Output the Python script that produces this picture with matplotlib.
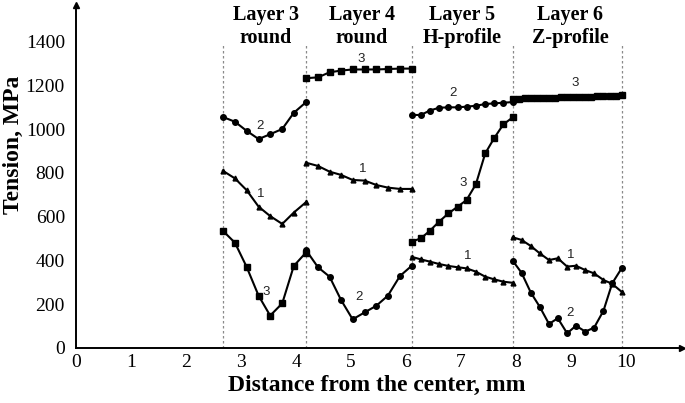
import matplotlib
matplotlib.use("Agg")
import matplotlib.pyplot as plt

# ---------------- data ----------------
layer_bounds = [2.67, 4.18, 6.10, 7.94, 9.92]
layer_titles = ["Layer 3", "Layer 4", "Layer 5", "Layer 6"]
layer_kinds = ["round", "round", "H-profile", "Z-profile"]

x_l3 = [2.67, 2.89, 3.10, 3.32, 3.53, 3.75, 3.96, 4.18]
l3_c1 = [810, 775, 722, 646, 603, 567, 619, 666]
l3_c2 = [1056, 1034, 993, 955, 977, 1001, 1075, 1123]
l3_c3 = [536, 481, 372, 239, 148, 204, 375, 436]

x_l4 = [4.18, 4.40, 4.61, 4.82, 5.03, 5.25, 5.46, 5.67, 5.89, 6.10]
l4_c1 = [847, 832, 806, 791, 768, 765, 745, 733, 727, 727]
l4_c2 = [448, 369, 326, 219, 131, 163, 193, 239, 329, 375]
l4_c3 = [1233, 1237, 1260, 1268, 1273, 1273, 1273, 1275, 1277, 1277]

x_l5 = [6.10, 6.27, 6.43, 6.60, 6.77, 6.94, 7.10, 7.27, 7.44, 7.60, 7.77, 7.94]
l5_c1 = [417, 405, 395, 384, 375, 369, 364, 349, 326, 314, 303, 298]
l5_c2 = [1065, 1065, 1085, 1098, 1100, 1100, 1103, 1107, 1115, 1118, 1121, 1124]
l5_c3 = [486, 501, 535, 577, 615, 646, 676, 748, 889, 958, 1022, 1054]

x_l6 = [7.94, 8.10, 8.27, 8.43, 8.60, 8.76, 8.93, 9.09, 9.26, 9.42, 9.59, 9.75, 9.92]
l6_c1 = [506, 494, 466, 433, 402, 410, 372, 376, 356, 341, 311, 293, 257]
l6_c2 = [399, 344, 253, 189, 110, 136, 67, 102, 75, 93, 170, 296, 364]
x_l6_c3 = [7.94, 8.05, 8.16, 8.27, 8.38, 8.49, 8.60, 8.71, 8.82, 8.93,
           9.04, 9.15, 9.26, 9.37, 9.48, 9.59, 9.70, 9.81, 9.92]
l6_c3 = [1136, 1140, 1141, 1142, 1142, 1143, 1144, 1144, 1145, 1146,
         1147, 1147, 1148, 1149, 1150, 1151, 1152, 1153, 1156]

# curve number labels (x, y, text)
num_x = [3.35, 3.35, 3.45, 5.19, 5.21, 5.14, 6.86, 7.04, 7.13, 9.07, 8.99, 8.99]
num_y = [1015, 704, 257, 1321, 817, 234, 1164, 753, 420, 1213, 425, 161]
num_t = ["2", "1", "3", "3", "1", "2", "2", "3", "1", "3", "1", "2"]

x_ticks = [0, 1, 2, 3, 4, 5, 6, 7, 8, 9, 10]
y_ticks = [0, 200, 400, 600, 800, 1000, 1200, 1400]

# ---------------- drawing ----------------
W, H = 685, 403
fig = plt.figure(figsize=(W / 100, H / 100), dpi=100)
ax = fig.add_axes([76 / W, 1 - 348 / H, (682 - 76) / W, (348 - 5) / H])
ax.set_xlim(0, 606 / 55)
ax.set_ylim(0, 343 / 0.2188)

serif = "Liberation Serif"

for b in layer_bounds:
    ax.plot([b, b], [0, 1385], color="#8a8a8a", lw=0.9, ls=(0, (2, 2)), zorder=1)

lw = 1.5
sq = dict(marker="s", ms=4.5, color="black", lw=lw, zorder=3)
ci = dict(marker="o", ms=4, color="black", lw=lw, zorder=3)
tr = dict(marker="^", ms=3.5, color="black", lw=lw, zorder=3)

ax.plot(x_l3, l3_c1, **tr)
ax.plot(x_l3, l3_c2, **ci)
ax.plot(x_l3, l3_c3, **sq)
ax.plot(x_l4, l4_c1, **tr)
ax.plot(x_l4, l4_c2, **ci)
ax.plot(x_l4, l4_c3, **sq)
ax.plot(x_l5, l5_c1, **tr)
ax.plot(x_l5, l5_c2, **ci)
ax.plot(x_l5, l5_c3, **sq)
ax.plot(x_l6, l6_c1, **tr)
ax.plot(x_l6, l6_c2, **ci)
ax.plot(x_l6_c3, l6_c3, **sq)

for xx, yy, t in zip(num_x, num_y, num_t):
    ax.text(xx, yy, t, fontsize=9.5, family="Liberation Sans", color="#222222",
            ha="center", va="center", zorder=4)

# spines with arrows
for s in ["top", "right"]:
    ax.spines[s].set_visible(False)
for s in ["left", "bottom"]:
    ax.spines[s].set_linewidth(1.4)
ax.plot(1, 0, ">", color="black", ms=5, transform=ax.transAxes, clip_on=False)
ax.plot(0, 1, "^", color="black", ms=5, transform=ax.transAxes, clip_on=False)

ax.set_xticks(x_ticks)
ax.set_yticks(y_ticks)
ax.set_xticklabels([str(v) for v in x_ticks], family=serif, fontsize=14)
ax.set_yticklabels([str(v) for v in y_ticks], family=serif, fontsize=14)
ax.tick_params(axis="both", length=0)
ax.tick_params(axis="x", pad=4)
ax.tick_params(axis="y", pad=8)

# layer headers
header_px = [266, 362, 462, 570]
for cx, t1, t2 in zip(header_px, layer_titles, layer_kinds):
    fig.text(cx / W, 1 - 15 / H, t1, ha="center", va="center",
             family=serif, weight="bold", fontsize=14.5)
    fig.text(cx / W, 1 - 38 / H, t2, ha="center", va="center",
             family=serif, weight="bold", fontsize=14.5)

fig.text(377 / W, 1 - 385 / H, "Distance from the center, mm", ha="center", va="center",
         family=serif, weight="bold", fontsize=17)
fig.text(13 / W, 1 - 145 / H, "Tension, MPa", ha="center", va="center", rotation=90,
         family=serif, weight="bold", fontsize=17)

fig.savefig("out.png", dpi=100)
